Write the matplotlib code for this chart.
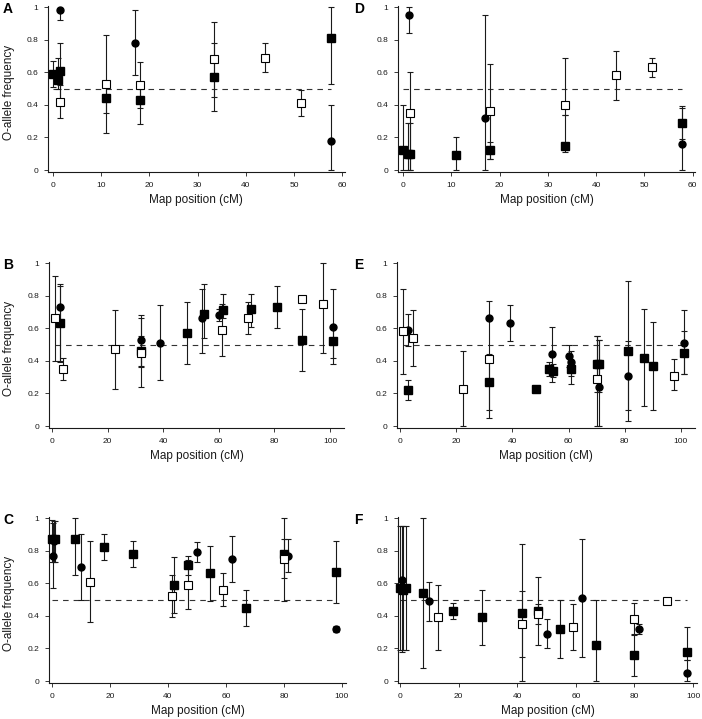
import matplotlib
matplotlib.use('Agg')
import matplotlib.pyplot as plt
import numpy as np

plt.rcParams['font.family'] = ['Liberation Sans', 'DejaVu Sans']

# ---- data: (map position cM, O-allele freq, lower, upper) ----
A_filled_sq = [(0, 0.59, 0.51, 0.67), (1, 0.55, 0.50, 0.69), (1.5, 0.61, 0.32, 0.78),
               (11, 0.44, 0.35, 0.53), (18, 0.43, 0.28, 0.52), (33.5, 0.57, 0.45, 0.78),
               (57.7, 0.81, 0.53, 1.0)]
A_circle = [(1.5, 0.98, 0.92, 0.98), (17, 0.78, 0.58, 0.98), (57.7, 0.18, 0.0, 0.40)]
A_open_sq = [(1.5, 0.42, 0.41, 0.52), (11, 0.53, 0.23, 0.83), (18, 0.52, 0.38, 0.66),
             (33.5, 0.68, 0.36, 0.91), (44, 0.69, 0.60, 0.78), (51.5, 0.41, 0.33, 0.49)]

D_filled_sq = [(0, 0.12, 0.0, 0.40), (1, 0.10, 0.0, 0.29), (1.5, 0.10, 0.0, 0.29),
               (11, 0.09, 0.0, 0.20), (18, 0.12, 0.065, 0.175), (33.5, 0.15, 0.11, 0.34),
               (57.7, 0.29, 0.19, 0.39)]
D_circle = [(1.3, 0.95, 0.84, 1.0), (17, 0.32, 0.0, 0.95), (57.7, 0.16, 0.0, 0.38)]
D_open_sq = [(1.5, 0.35, 0.0, 0.60), (18, 0.36, 0.07, 0.65), (33.5, 0.40, 0.34, 0.69),
             (44, 0.58, 0.43, 0.73), (51.5, 0.63, 0.57, 0.69)]

B_filled_sq = [(3, 0.63, 0.40, 0.86), (32, 0.46, 0.24, 0.66), (48.5, 0.57, 0.38, 0.76),
               (54.5, 0.69, 0.54, 0.87), (61.5, 0.71, 0.66, 0.81), (71.5, 0.72, 0.61, 0.81),
               (81, 0.73, 0.60, 0.86), (90, 0.53, 0.34, 0.72), (101, 0.52, 0.38, 0.61)]
B_circle = [(3, 0.73, 0.39, 0.87), (32, 0.53, 0.36, 0.68), (39, 0.51, 0.28, 0.74),
            (54, 0.66, 0.45, 0.84), (60, 0.68, 0.645, 0.72), (101, 0.61, 0.42, 0.84)]
B_open_sq = [(1, 0.66, 0.40, 0.92), (4, 0.35, 0.28, 0.42), (22.5, 0.47, 0.23, 0.71),
             (32, 0.45, 0.37, 0.55), (61, 0.59, 0.43, 0.75), (70.5, 0.66, 0.565, 0.76),
             (90, 0.78, 0.77, 0.79), (97.5, 0.75, 0.45, 1.0)]

E_filled_sq = [(3, 0.22, 0.16, 0.28), (31.5, 0.27, 0.05, 0.77), (48.5, 0.23, 0.22, 0.24),
               (53, 0.35, 0.31, 0.39), (54.5, 0.34, 0.30, 0.38), (61, 0.35, 0.31, 0.39),
               (70, 0.38, 0.0, 0.55), (71, 0.38, 0.0, 0.53), (81, 0.46, 0.10, 0.89),
               (87, 0.42, 0.12, 0.72), (90, 0.37, 0.10, 0.64), (101, 0.45, 0.32, 0.58)]
E_circle = [(3, 0.59, 0.49, 0.69), (31.5, 0.66, 0.65, 0.67), (39, 0.63, 0.52, 0.74),
            (54, 0.44, 0.27, 0.61), (60, 0.43, 0.36, 0.50), (61, 0.39, 0.26, 0.46),
            (71, 0.24, 0.21, 0.53), (81, 0.31, 0.03, 0.52), (101, 0.51, 0.32, 0.71)]
E_open_sq = [(1, 0.58, 0.32, 0.84), (4.5, 0.54, 0.37, 0.71), (22.5, 0.23, 0.0, 0.46),
             (31.5, 0.41, 0.10, 0.44), (70, 0.29, 0.21, 0.55), (97.5, 0.31, 0.22, 0.41)]

C_filled_sq = [(0, 0.87, 0.73, 0.99), (1, 0.87, 0.73, 0.98), (8, 0.87, 0.65, 1.0),
               (18, 0.82, 0.74, 0.90), (28, 0.78, 0.70, 0.86), (42, 0.59, 0.42, 0.76),
               (47, 0.71, 0.65, 0.77), (54.5, 0.66, 0.49, 0.83), (67, 0.45, 0.34, 0.56),
               (80, 0.78, 0.49, 1.0), (98, 0.67, 0.48, 0.86)]
C_circle = [(0.5, 0.77, 0.57, 0.97), (0.8, 0.86, 0.73, 0.98), (10, 0.70, 0.50, 0.90),
            (50, 0.79, 0.73, 0.85), (62, 0.75, 0.61, 0.89), (81.5, 0.77, 0.67, 0.87),
            (98, 0.32, 0.30, 0.34)]
C_open_sq = [(13, 0.61, 0.36, 0.86), (41.5, 0.52, 0.39, 0.65), (47, 0.59, 0.44, 0.74),
             (59, 0.56, 0.46, 0.66), (80, 0.75, 0.63, 0.87)]

F_filled_sq = [(0, 0.57, 0.19, 0.95), (1, 0.56, 0.19, 0.95), (2, 0.57, 0.19, 0.95),
               (8, 0.54, 0.08, 1.0), (18, 0.43, 0.38, 0.48), (28, 0.39, 0.22, 0.56),
               (41.5, 0.42, 0.0, 0.84), (47, 0.43, 0.35, 0.64), (54.5, 0.32, 0.14, 0.50),
               (67, 0.22, 0.0, 0.50), (80, 0.16, 0.03, 0.29), (98, 0.18, 0.13, 0.33)]
F_circle = [(0.5, 0.62, 0.18, 0.95), (10, 0.49, 0.37, 0.61), (50, 0.29, 0.20, 0.38),
            (62, 0.51, 0.15, 0.87), (81.5, 0.32, 0.29, 0.35), (98, 0.05, 0.0, 0.13)]
F_open_sq = [(13, 0.39, 0.19, 0.59), (41.5, 0.35, 0.15, 0.55), (47, 0.41, 0.22, 0.47),
             (59, 0.33, 0.19, 0.47), (80, 0.38, 0.28, 0.48), (91, 0.49, 0.48, 0.50)]

xticks_short = [0, 10, 20, 30, 40, 50, 60]
xticks_long = [0, 20, 40, 60, 80, 100]
yticks = [0, 0.2, 0.4, 0.6, 0.8, 1.0]
ytick_labels = ['0', '0.2', '0.4', '0.6', '0.8', '1']
xlabel = 'Map position (cM)'
ylabel = 'O-allele frequency'

W, H = 702, 719
fig = plt.figure(figsize=(W / 100, H / 100), dpi=100)

# panel: letter, data, xlim, xticks, pixel rect (left, top, right, bottom), show ylabel
panels = [
    ('A', A_filled_sq, A_circle, A_open_sq, (-1, 60.5), xticks_short, (48.2, 6.2, 344.6, 172), True),
    ('B', B_filled_sq, B_circle, B_open_sq, (-1, 105), xticks_long, (49.2, 262.2, 343.9, 428), True),
    ('C', C_filled_sq, C_circle, C_open_sq, (-1, 101.5), xticks_long, (49.1, 517.2, 346.3, 683), True),
    ('D', D_filled_sq, D_circle, D_open_sq, (-1, 60.5), xticks_short, (398.2, 6.2, 695.2, 172), False),
    ('E', E_filled_sq, E_circle, E_open_sq, (-1, 105), xticks_long, (397.2, 262.2, 695, 428), False),
    ('F', F_filled_sq, F_circle, F_open_sq, (-0.7, 101.5), xticks_long, (398, 517.2, 697.4, 683), False),
]

ink = '#1a1a1a'
for letter, fsq, circ, osq, xlim, xt, (l, t, r, b), show_y in panels:
    ax = fig.add_axes([l / W, 1 - b / H, (r - l) / W, (b - t) / H])
    ax.set_xlim(*xlim)
    ax.set_ylim(-0.012, 1.005)
    for s in ['top', 'right']:
        ax.spines[s].set_visible(False)
    for s in ['left', 'bottom']:
        ax.spines[s].set_linewidth(0.8)
        ax.spines[s].set_color(ink)
    ax.set_xticks(xt)
    ax.set_xticklabels([str(v) for v in xt])
    ax.set_yticks(yticks)
    ax.set_yticklabels(ytick_labels)
    ax.tick_params(direction='out', length=3, width=0.6, labelsize=6, pad=4, colors=ink)

    allx = [p[0] for p in fsq + circ + osq]
    ax.plot([min(allx), max(allx)], [0.5, 0.5], color='#333333', lw=0.8,
            dashes=(5, 4.5), zorder=1)

    for series in (fsq, circ, osq):
        xs = np.array([p[0] for p in series])
        ys = np.array([p[1] for p in series])
        lo = np.array([p[2] for p in series])
        hi = np.array([p[3] for p in series])
        ax.errorbar(xs, ys, yerr=[ys - lo, hi - ys], fmt='none', ecolor=ink,
                    elinewidth=0.8, capsize=2.5, capthick=0.8, zorder=2, clip_on=False)

    ax.plot([p[0] for p in fsq], [p[1] for p in fsq], 's', ms=5.8, color='black',
            mec='black', zorder=3, clip_on=False)
    ax.plot([p[0] for p in circ], [p[1] for p in circ], 'o', ms=5.0, color='black',
            mec='black', zorder=4, clip_on=False)
    ax.plot([p[0] for p in osq], [p[1] for p in osq], 's', ms=5.8, mfc='white',
            mec='black', mew=0.8, zorder=5, clip_on=False)

    cx = (l + r) / 2
    fig.text(cx / W, 1 - (b + 28) / H, xlabel, ha='center', va='center', fontsize=8.5, color=ink)
    if show_y:
        fig.text(9 / W, 1 - ((t + b) / 2 + 3) / H, ylabel, ha='center', va='center',
                 rotation=90, fontsize=8.5, color=ink)
    lx = 3 if l < 200 else 354
    fig.text(lx / W, 1 - (t - 4) / H, letter, ha='left', va='top', fontsize=10,
             fontweight='bold', color='black')

fig.savefig('out.png', dpi=100)
